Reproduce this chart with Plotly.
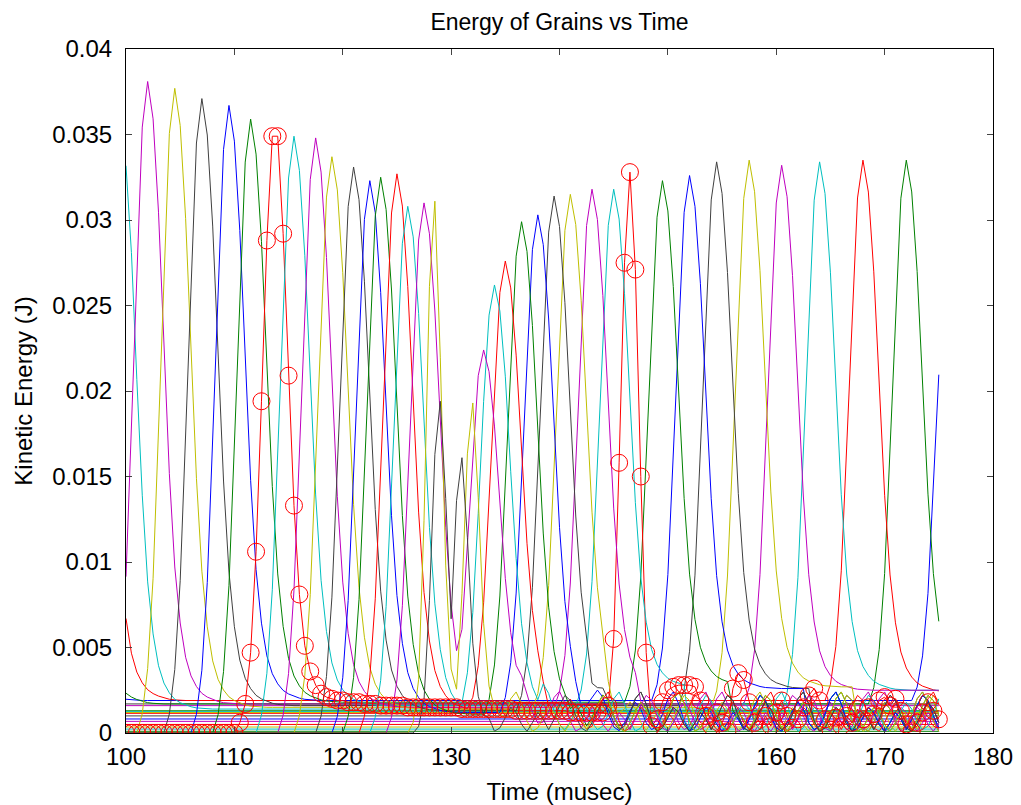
import numpy as np
import plotly.graph_objects as go

# ---------------- data ----------------
dt = 0.5
t = np.round(np.arange(100.0, 175.0 + 1e-9, dt), 2)

x_ticks = [100, 110, 120, 130, 140, 150, 160, 170, 180]
y_ticks = [0, 0.005, 0.01, 0.015, 0.02, 0.025, 0.03, 0.035, 0.04]
y_tick_labels = ["0", "0.005", "0.01", "0.015", "0.02", "0.025", "0.03", "0.035", "0.04"]

# relative pulse shapes read from the sampled peaks (0.5 musec steps)
rise_rel = [0.03, 0.10, 0.24, 0.47, 0.73, 0.93]
fall_rel = [1.0, 0.94, 0.79, 0.57, 0.37, 0.22, 0.13, 0.075, 0.045, 0.028,
            0.017, 0.011, 0.007, 0.004, 0.002, 0.001, 0.0]
# sharper pulses of the grains next to the wall
rise_narrow = [0.0, 0.0, 0.02, 0.10, 0.40, 0.84]
fall_narrow = [1.0, 0.7, 0.3, 0.1, 0.03, 0.01, 0.0]
# residual jitter after the reflected pulse (J)
ripple = [0.0002, 0.0008, 0.0016, 0.0022, 0.0019, 0.0010, 0.0003, 0.0001, 0.0006, 0.0013,
          0.0018, 0.0014, 0.0006, 0.0002, 0.0004, 0.0011, 0.0020, 0.0024, 0.0017, 0.0007,
          0.0001, 0.0003, 0.0009, 0.0015, 0.0012, 0.0005, 0.0001, 0.0006, 0.0012, 0.0008]

# grains in plotting order (MATLAB colour cycle b g r c m y k)
grain_color = ["g", "r", "c", "m", "y", "k", "b", "g", "r", "c", "m", "y", "k",
               "b", "g", "r", "c", "m", "y", "k", "b", "g", "TRACK",
               "c", "m", "y", "k", "b", "g", "r", "c", "m", "y", "k"]
peak1_t = [60.5, 63.0, 65.5, 68.0, 70.5, 73.0, 75.5, 78.0, 80.5, 83.0, 85.5, 88.0, 90.5,
           93.0, 95.0, 97.0, 99.5, 102.0, 104.5, 107.0, 109.5, 111.5, None,
           115.5, 117.5, 119.0, 121.0, 122.5, 123.5, 125.0, 126.0, 127.5, 128.5, 129.0]
peak1_e = [0.039, 0.039, 0.039, 0.039, 0.039, 0.039, 0.039, 0.039, 0.039, 0.039, 0.039, 0.039, 0.039,
           0.039, 0.0385, 0.0388, 0.0352, 0.0381, 0.0377, 0.0371, 0.0367, 0.0359, None,
           0.0349, 0.0348, 0.0337, 0.0331, 0.0323, 0.0325, 0.0327, 0.0308, 0.0310, 0.0311, 0.0194]
plateau1 = [0.0001, 0.0005, 0.00023, 0.00068, 0.00035, 0.0010, 0.00082, 0.0013, 0.00115,
            0.00125, 0.0016, 0.0012, 0.0017,
            0.0019, 0.0017, 0.0019, 0.0014, 0.0017, 0.0015, 0.0016, 0.0019, 0.0018, None,
            0.0016, 0.0015, 0.0014, 0.0013, 0.0012, 0.0011, 0.0013, 0.0010, 0.0009, 0.0007, 0.0004]
peak2_t = [None] * 13 + [176.0, 172.0, 168.0, 164.0, 160.5, 157.5, 154.5, 152.0, 149.5, None,
                         145.0, 143.0, 141.0, 139.5, 138.0, 136.5, 135.0, 134.0, 133.0, 132.0, 131.0]
peak2_e = [None] * 13 + [0.028, 0.0335, 0.0335, 0.0334, 0.0332, 0.0335, 0.0334, 0.0326, 0.0323, None,
                         0.0318, 0.0318, 0.0315, 0.0314, 0.0303, 0.0299, 0.0276, 0.0262, 0.0224,
                         0.0193, 0.0161]
hold2_e = [None] * 13 + [0.0025, 0.0025, 0.0024, 0.0025, 0.0025, 0.0027, 0.0026, 0.0026, 0.0028, None,
                         0.0027, 0.0022, 0.0020, 0.0017, 0.0013, 0.0010, 0.0014, 0.0008, 0.0012,
                         0.0009, 0.0006]
hold2_n = [None] * 13 + [30, 30, 30, 30, 30, 19, 17, 21, 12, None,
                         13, 8, 6, 6, 6, 8, 6, 8, 6, 6, 4]
narrow = [0] * 32 + [1, 1]
ripple_shift = [0, 7, 13, 19, 4, 23, 10, 16, 2, 27, 8, 21, 14,
                5, 25, 11, 17, 3, 29, 9, 20, 15, 0,
                6, 26, 12, 1, 22, 18, 28, 24, 3, 9, 14]

# the tracked grain (red line with circles), one value per 0.5 musec from 100 to 175
tracked_e = (
    [0.0] * 21
    + [0.0006, 0.0017, 0.0047, 0.0106, 0.0194, 0.0288, 0.0349, 0.0349, 0.0292, 0.0209,
       0.0133, 0.0081, 0.0051, 0.0036, 0.0028, 0.0023, 0.0021, 0.0020, 0.0019, 0.0019, 0.0018]
    + [0.0018, 0.0018, 0.0017, 0.0017,
       0.0017, 0.0016, 0.0016, 0.0016, 0.0016, 0.0016,
       0.0015, 0.0015, 0.0015, 0.0015, 0.0015, 0.0015, 0.0015, 0.0015, 0.0015, 0.0015,
       0.0014, 0.0014, 0.0014, 0.0014, 0.0014, 0.0014, 0.0014, 0.0014, 0.0014, 0.0014,
       0.0013, 0.0013, 0.0013, 0.0013, 0.0013, 0.0013, 0.0013, 0.0013, 0.0013, 0.0013,
       0.0012, 0.0012, 0.0012, 0.0012, 0.0012, 0.0012, 0.0012, 0.0016]
    + [0.0055, 0.0158, 0.0275, 0.0328, 0.0271, 0.0150, 0.0047]
    + [0.0004, 0.0008, 0.0018, 0.0025, 0.0027, 0.0028, 0.0028, 0.0028, 0.0027, 0.0019,
       0.0010, 0.0004, 0.0012, 0.0006, 0.0001, 0.0026, 0.0035, 0.0031, 0.0018, 0.0006,
       0.0002, 0.0010, 0.0004, 0.0012, 0.0019, 0.0010, 0.0003, 0.0008, 0.0015, 0.0022,
       0.0026, 0.0019, 0.0008, 0.0002, 0.0009, 0.0004, 0.0010, 0.0006, 0.0014, 0.0008,
       0.0015, 0.0011, 0.0019, 0.0021, 0.0016, 0.0020, 0.0013, 0.0005, 0.0001, 0.0006,
       0.0012, 0.0018, 0.0013, 0.0008]
)
assert len(tracked_e) == len(t)

palette = {"b": "#0000FF", "g": "#008000", "r": "#FF0000", "c": "#00BFBF",
           "m": "#BF00BF", "y": "#BFBF00", "k": "#404040", "TRACK": "#FF0000"}


def grain_series(i):
    p1, e1, pl1 = peak1_t[i], peak1_e[i], plateau1[i]
    p2, e2, h2, hn = peak2_t[i], peak2_e[i], hold2_e[i], hold2_n[i]
    rise = rise_narrow if narrow[i] else rise_rel
    fall = fall_narrow if narrow[i] else fall_rel
    nr, nf = len(rise), len(fall)
    out = []
    for tj in t:
        k1 = int(round((tj - p1) / dt))
        if k1 < -nr:
            val = 0.0
        elif k1 < 0:
            val = e1 * rise[nr + k1]
        else:
            val = pl1 + (e1 - pl1) * fall[min(k1, nf - 1)]
        if p2 is not None:
            k2 = int(round((tj - p2) / dt))
            if -nr <= k2 < 0:
                val = max(val, pl1 + (e2 - pl1) * rise[nr + k2])
            elif k2 >= 0:
                if k2 <= hn:
                    base = h2
                else:
                    base = ripple[(k2 + ripple_shift[i]) % len(ripple)]
                val = base + (e2 - base) * fall[min(k2, nf - 1)]
        out.append(val)
    return out


fig = go.Figure()
for i, c in enumerate(grain_color):
    y = tracked_e if c == "TRACK" else grain_series(i)
    fig.add_trace(go.Scatter(x=t, y=y, mode="lines",
                             line=dict(color=palette[c], width=1),
                             hoverinfo="skip"))

fig.add_trace(go.Scatter(x=t, y=tracked_e, mode="markers",
                         marker=dict(symbol="circle-open", size=17,
                                     color="#FF0000", line=dict(width=1, color="#FF0000")),
                         hoverinfo="skip"))

font_family = "Liberation Sans, Arial, sans-serif"
FS = 24
# the page body adds an 8 px offset, margins compensate for it
fig.update_layout(
    width=1021, height=805,
    margin=dict(l=118, r=36, t=41, b=80),
    paper_bgcolor="white", plot_bgcolor="white",
    showlegend=False,
    font=dict(family=font_family, color="black", size=FS),
    title=dict(text="Energy of Grains vs Time", x=0.5, xref="paper",
               y=1 - 14 / 805, yref="container", yanchor="middle", xanchor="center",
               font=dict(size=23, family=font_family, color="black")),
)
fig.update_xaxes(range=[100, 180], tickvals=x_ticks, ticks="inside", ticklen=6,
                 showline=True, linecolor="black", linewidth=1, mirror="ticks",
                 showgrid=False, zeroline=False, tickfont=dict(size=FS),
                 ticklabelstandoff=2, automargin=False,
                 title=dict(text="Time (musec)", font=dict(size=FS), standoff=14))
fig.update_yaxes(range=[0, 0.04], tickvals=y_ticks, ticktext=y_tick_labels,
                 ticks="inside", ticklen=6,
                 showline=True, linecolor="black", linewidth=1, mirror="ticks",
                 showgrid=False, zeroline=False, tickfont=dict(size=FS),
                 ticklabelstandoff=8, automargin=False,
                 title=dict(text="Kinetic Energy (J)", font=dict(size=FS), standoff=12))

fig.write_html("out.html")
